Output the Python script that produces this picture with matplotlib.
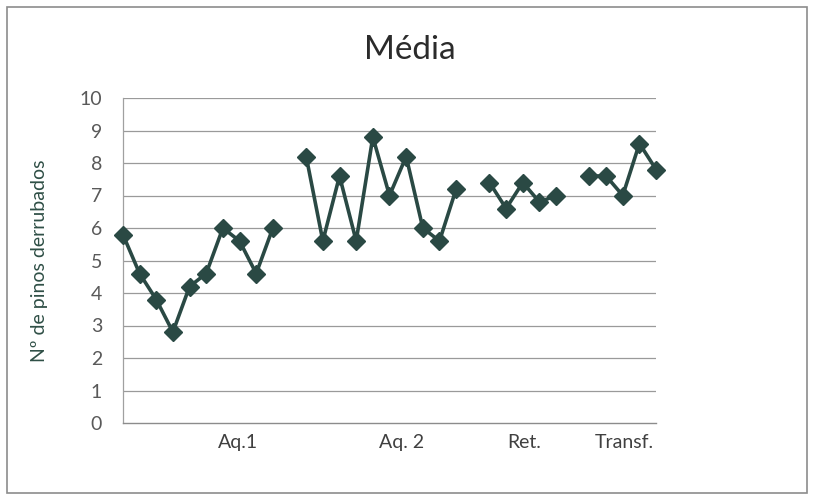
import matplotlib.pyplot as plt
import matplotlib.patches as patches
import numpy as np

# values (mean pins knocked down per trial)
aq1 = [5.8, 4.6, 3.8, 2.8, 4.2, 4.6, 6.0, 5.6, 4.6, 6.0]
aq2 = [8.2, 5.6, 7.6, 5.6, 8.8, 7.0, 8.2, 6.0, 5.6, 7.2]
ret = [7.4, 6.6, 7.4, 6.8, 7.0]
transf = [7.6, 7.6, 7.0, 8.6, 7.8]

group_labels = ["Aq.1", "Aq. 2", "Ret.", "Transf."]
y_ticks = list(range(0, 11))

TITLE = "Média"
Y_AXIS = "Nº de pinos derrubados"

LINE_COLOR = "#2a4944"
GRID_COLOR = "#9a9a9a"
TEXT_COLOR = "#595959"
FONT = ["Lato", "DejaVu Sans"]

plt.rcParams["font.family"] = FONT

# one empty category between the groups, like the original sheet
series = []
for i, group in enumerate([aq1, aq2, ret, transf]):
    if i > 0:
        series.append(np.nan)
    series.extend(group)
series = np.array(series)
x = np.arange(len(series))

# label positions (in category units) where the original puts the group names
label_pos = [6.9, 16.7, 24.1, 30.1]

fig = plt.figure(figsize=(8.14, 5.0), dpi=100)
ax = fig.add_axes([0.151, 0.154, 0.655, 0.650])

# outer chart border
fig.patches.append(patches.Rectangle((0.009, 0.014), 0.982, 0.972, transform=fig.transFigure,
                                     fill=False, edgecolor="#8c8c8c", linewidth=1.2))

for y in y_ticks[1:]:
    ax.axhline(y, color=GRID_COLOR, linewidth=0.9, zorder=1)

ax.plot(x, series, color=LINE_COLOR, linewidth=2.6, marker="D", markersize=9,
        markerfacecolor=LINE_COLOR, markeredgecolor=LINE_COLOR, zorder=3, clip_on=False)

ax.set_xlim(0, len(series) - 1)
ax.set_ylim(0, 10)
ax.set_yticks(y_ticks)
ax.set_xticks(label_pos)
ax.set_xticklabels(group_labels)
ax.tick_params(axis="y", length=0, pad=15, labelsize=14, labelcolor=TEXT_COLOR)
ax.tick_params(axis="x", length=0, pad=8, labelsize=14, labelcolor="#404040")

for side in ("top", "right"):
    ax.spines[side].set_visible(False)
ax.spines["left"].set_color("#a0a0a0")
ax.spines["bottom"].set_color("#8c8c8c")
ax.spines["left"].set_linewidth(0.9)
ax.spines["bottom"].set_linewidth(1.0)

fig.text(0.504, 0.90, TITLE, ha="center", va="center", fontsize=24, color="#2b2b2b")
fig.text(0.049, 0.479, Y_AXIS, ha="center", va="center", rotation=90, fontsize=14,
         color="#2f4f46")

fig.savefig("out.png", dpi=100)
